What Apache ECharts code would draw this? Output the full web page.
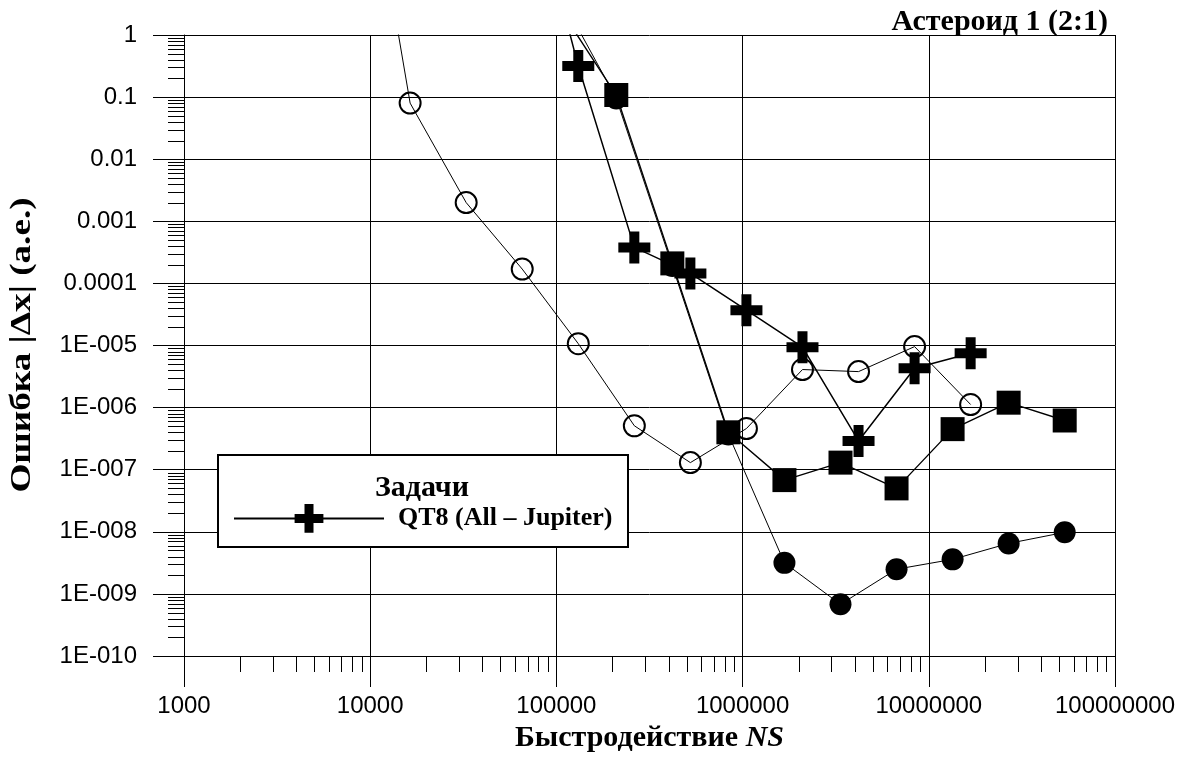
<!DOCTYPE html>
<html>
<head>
<meta charset="utf-8">
<script src="https://cdn.jsdelivr.net/npm/echarts@6/dist/echarts.min.js"></script>
<style>html,body{margin:0;padding:0;background:#fff;}#c{width:1199px;height:769px;}</style>
</head>
<body>
<div id="c"></div>
<script>
// ---- data ----
const xTickLabels = ['1000', '10000', '100000', '1000000', '10000000', '100000000'];
const yTickLabels = ['1E-010', '1E-009', '1E-008', '1E-007', '1E-006', '1E-005', '0.0001', '0.001', '0.01', '0.1', '1'];

const openX = [8192, 16384, 32768, 65536, 131072, 262144, 524288, 1048576, 2097152, 4194304, 8388608, 16777216];
const openY = [1.6e4, 0.08, 0.002, 1.7e-4, 1.07e-5, 5.1e-7, 1.3e-7, 4.6e-7, 4.1e-6, 3.8e-6, 9.6e-6, 1.12e-6];

const plusX = [65536, 131072, 262144, 524288, 1048576, 2097152, 4194304, 8388608, 16777216];
const plusY = [900, 0.316, 3.8e-4, 1.45e-4, 3.7e-5, 9.4e-6, 2.9e-7, 4.3e-6, 7.5e-6];

const squareX = [104858, 209715, 419430, 838861, 1677722, 3355443, 6710886, 13421773, 26843546, 53687091];
const squareY = [2.6, 0.108, 2.1e-4, 4.0e-7, 6.8e-8, 1.3e-7, 5.0e-8, 4.5e-7, 1.2e-6, 6.2e-7];

const filledX = [104858, 209715, 419430, 838861, 1677722, 3355443, 6710886, 13421773, 26843546, 53687091];
const filledY = [4.3, 0.095, 1.9e-4, 3.7e-7, 3.16e-9, 6.8e-10, 2.5e-9, 3.6e-9, 6.5e-9, 9.8e-9];

const legendName = 'QT8 (All – Jupiter)';
const legendTitle = 'Задачи';
const chartTitle = 'Астероид 1 (2:1)';
const yAxisTitle = 'Ошибка |Δx| (а.е.)';

const X_MIN = 1000, X_MAX = 1e8, Y_MIN = 1e-10, Y_MAX = 1;

// ---- helpers ----
const zip = (xs, ys) => xs.map((x, i) => [x, ys[i]]);
function minorValues(minExp, maxExp) {
  const arr = [];
  for (let e = minExp; e < maxExp; e++) for (let m = 2; m <= 9; m++) arr.push(m * Math.pow(10, e));
  return arr;
}
const SERIF = '"Liberation Serif", "Times New Roman", serif';
const SANS = '"Liberation Sans", Arial, sans-serif';
const plusPath = 'path://M11,0 H21 V11 H32 V21 H21 V32 H11 V21 H0 V11 H11 Z';

const chart = echarts.init(document.getElementById('c'), null, { renderer: 'canvas' });
chart.setOption({
  animation: false,
  backgroundColor: '#fff',
  title: {
    text: chartTitle, right: 86, top: 2,
    textStyle: { fontFamily: SERIF, fontWeight: 'bold', fontSize: 30, color: '#000' }
  },
  grid: { left: 184, right: 84, top: 35, bottom: 113, containLabel: false, outerBoundsMode: 'none' },
  xAxis: {
    type: 'log', logBase: 10, min: X_MIN, max: X_MAX, interval: 1, splitNumber: 5,
    axisLine: { show: true, lineStyle: { color: '#000', width: 1 } },
    axisTick: { show: true, length: 31, lineStyle: { color: '#000', width: 1 } },
    splitLine: { show: true, lineStyle: { color: '#000', width: 1 } },
    axisLabel: {
      margin: 38, fontFamily: SANS, fontSize: 24, color: '#000',
      formatter: v => xTickLabels[Math.round(Math.log10(v)) - 3]
    },
    name: '{a|Быстродействие }{b|NS}', nameLocation: 'middle', nameGap: 62,
    nameTextStyle: {
      rich: {
        a: { fontFamily: SERIF, fontWeight: 'bold', fontSize: 30, color: '#000' },
        b: { fontFamily: SERIF, fontWeight: 'bold', fontStyle: 'italic', fontSize: 30, color: '#000' }
      }
    }
  },
  yAxis: {
    type: 'log', logBase: 10, min: Y_MIN, max: Y_MAX, interval: 1, splitNumber: 10,
    axisLine: { show: true, lineStyle: { color: '#000', width: 1 } },
    axisTick: { show: true, length: 31, lineStyle: { color: '#000', width: 1 } },
    splitLine: { show: true, lineStyle: { color: '#000', width: 1 } },
    axisLabel: {
      margin: 47, fontFamily: SANS, fontSize: 24, color: '#000',
      formatter: v => yTickLabels[Math.round(Math.log10(v)) + 10]
    }
  },
  legend: {
    data: [legendName], left: 233, top: 504, padding: 0, z: 12,
    itemWidth: 150, itemHeight: 36,
    textStyle: { fontFamily: SERIF, fontWeight: 'bold', fontSize: 26, color: '#000', padding: [0, 0, 0, 9] },
    selectedMode: false
  },
  graphic: [
    { type: 'rect', z: 10, shape: { x: 218, y: 455, width: 410, height: 92 }, style: { fill: '#fff', stroke: '#000', lineWidth: 2 } },
    { type: 'text', z: 11, x: 422, y: 488, style: { text: legendTitle, fill: '#000', font: 'bold 30px ' + SERIF, align: 'center', verticalAlign: 'middle' } },
    { type: 'text', z: 11, x: 22, y: 345, rotation: Math.PI / 2, scaleX: 1.24, scaleY: 1,
      style: { text: yAxisTitle, fill: '#000', font: 'bold 30px ' + SERIF, align: 'center', verticalAlign: 'middle' } }
  ],
  series: [
    {
      name: 'filled', type: 'line', data: zip(filledX, filledY), z: 2,
      symbol: 'circle', symbolSize: 22, showAllSymbol: true,
      itemStyle: { color: '#000' }, lineStyle: { color: '#000', width: 1 }, emphasis: { disabled: true }
    },
    {
      name: 'squares', type: 'line', data: zip(squareX, squareY), z: 3,
      symbol: 'rect', symbolSize: 24, showAllSymbol: true,
      itemStyle: { color: '#000' }, lineStyle: { color: '#000', width: 1.4 }, emphasis: { disabled: true }
    },
    {
      name: 'open', type: 'line', data: zip(openX, openY), z: 4,
      symbol: 'circle', symbolSize: 21, showAllSymbol: true,
      itemStyle: { color: 'rgba(0,0,0,0)', borderColor: '#000', borderWidth: 2 },
      lineStyle: { color: '#000', width: 1 }, emphasis: { disabled: true }
    },
    {
      name: legendName, type: 'line', data: zip(plusX, plusY), z: 5,
      symbol: plusPath, symbolSize: 32, showAllSymbol: true,
      itemStyle: { color: '#000' }, lineStyle: { color: '#000', width: 1.5 }, emphasis: { disabled: true }
    },
    {
      name: 'xMinor', type: 'custom', silent: true, z: 6,
      data: minorValues(3, 8).map(v => [v, Y_MIN]),
      renderItem: (params, api) => {
        const p = api.coord([api.value(0), api.value(1)]);
        const x = Math.round(p[0]) + 0.5, y = Math.round(p[1]);
        return { type: 'line', shape: { x1: x, y1: y, x2: x, y2: y + 16 }, style: { stroke: '#000', lineWidth: 1 } };
      }
    },
    {
      name: 'yMinor', type: 'custom', silent: true, z: 6,
      data: minorValues(-10, 0).map(v => [X_MIN, v]),
      renderItem: (params, api) => {
        const p = api.coord([api.value(0), api.value(1)]);
        const x = Math.round(p[0]), y = Math.round(p[1]) + 0.5;
        return { type: 'line', shape: { x1: x - 16, y1: y, x2: x, y2: y }, style: { stroke: '#000', lineWidth: 1 } };
      }
    }
  ]
});
</script>
</body>
</html>
